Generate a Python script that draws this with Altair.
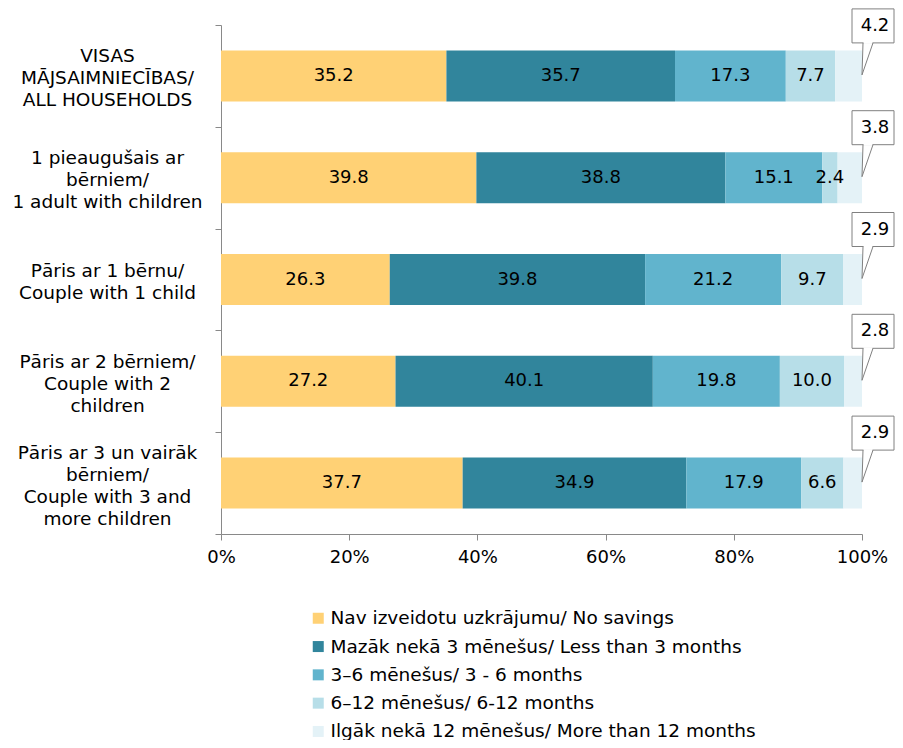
import altair as alt
import pandas as pd

categories = [
    "VISAS|MĀJSAIMNIECĪBAS/|ALL HOUSEHOLDS",
    "1 pieaugušais ar|bērniem/|1 adult with children",
    "Pāris ar 1 bērnu/|Couple with 1 child",
    "Pāris ar 2 bērniem/|Couple with 2|children",
    "Pāris ar 3 un vairāk|bērniem/|Couple with 3 and|more children",
]
series = [
    "Nav izveidotu uzkrājumu/ No savings",
    "Mazāk nekā 3 mēnešus/ Less than 3 months",
    "3–6 mēnešus/ 3 - 6 months",
    "6–12 mēnešus/ 6-12 months",
    "Ilgāk nekā 12 mēnešus/ More than 12 months",
]
no_savings = [35.2, 39.8, 26.3, 27.2, 37.7]
less_3 = [35.7, 38.8, 39.8, 40.1, 34.9]
m3_6 = [17.3, 15.1, 21.2, 19.8, 17.9]
m6_12 = [7.7, 2.4, 9.7, 10.0, 6.6]
more_12 = [4.2, 3.8, 2.9, 2.8, 2.9]
colors = ["#FFD175", "#31859C", "#61B4CD", "#B7DEE8", "#E4F2F7"]
x_ticks = [0, 0.2, 0.4, 0.6, 0.8, 1.0]

rows = []
for si, (s, vals) in enumerate(zip(series, [no_savings, less_3, m3_6, m6_12, more_12])):
    for ci, (c, v) in enumerate(zip(categories, vals)):
        rows.append({"category": c, "row": ci, "series": s, "order": si, "value": v})
df = pd.DataFrame(rows)

FONT = "DejaVu Sans"
GRAY = "#898989"
n_cat = len(categories)
last = len(series) - 1

base = alt.Chart(df).transform_stack(
    stack="value",
    groupby=["category"],
    sort=[alt.SortField("order", order="ascending")],
    as_=["v0", "v1"],
    offset="normalize",
).transform_calculate(
    mid="(datum.v0 + datum.v1) / 2",
    yc="datum.row + 0.5",
)

nlines = "length(split(datum.value, '|'))"
label_offset = {
    "condition": [
        {"test": f"{nlines} == 2", "value": -9},
        {"test": f"{nlines} == 4", "value": -31},
    ],
    "value": -20,
}

y_band = alt.Y(
    "category:N",
    sort=categories,
    scale=alt.Scale(paddingInner=0, paddingOuter=0),
    axis=alt.Axis(
        title=None,
        labelExpr="split(datum.label, '|')",
        labelAlign="center",
        labelBaseline="middle",
        labelPadding=108,
        labelOffset=label_offset,
        labelFontSize=18.5,
        labelFont=FONT,
        labelColor="black",
        labelLineHeight=22,
        labelLimit=0,
        labelAngle=0,
        tickBand="extent",
        tickSize=6,
        tickColor=GRAY,
        domainColor=GRAY,
        grid=False,
    ),
)

bars = base.mark_bar(size=51).encode(
    y=y_band,
    x=alt.X(
        "v0:Q",
        scale=alt.Scale(domain=[0, 1]),
        axis=alt.Axis(
            title=None,
            format="%",
            values=x_ticks,
            tickSize=6,
            tickColor=GRAY,
            domainColor=GRAY,
            labelFontSize=18,
            labelFont=FONT,
            labelColor="black",
            labelPadding=8,
            labelFlush=False,
            grid=False,
        ),
    ),
    x2="v1:Q",
    color=alt.Color(
        "series:N",
        sort=series,
        scale=alt.Scale(domain=series, range=colors),
        legend=alt.Legend(
            title=None,
            orient="none",
            legendX=88,
            legendY=584,
            direction="vertical",
            symbolType="square",
            symbolSize=121,
            symbolStrokeWidth=0,
            labelFontSize=18.5,
            labelFont=FONT,
            labelColor="black",
            labelLimit=0,
            labelOffset=3,
            rowPadding=9.3,
        ),
    ),
)

labels = base.transform_filter(f"datum.order < {last}").mark_text(
    fontSize=18, font=FONT, color="black", baseline="middle"
).encode(
    y=alt.Y("category:N", sort=categories, scale=alt.Scale(paddingInner=0, paddingOuter=0)),
    x="mid:Q",
    text=alt.Text("value:Q", format=".1f"),
)

main = alt.layer(bars, labels)

cb = base.transform_filter(f"datum.order == {last}")
yq = alt.Y("yc:Q", scale=alt.Scale(domain=[0, n_cat], reverse=True, nice=False, zero=False), axis=None)

box = cb.mark_rect(
    fill="white", stroke="#808080", strokeWidth=1,
    xOffset=-10, x2Offset=32, yOffset=-67, y2Offset=-33,
).encode(x="v1:Q", x2="v1:Q", y=yq, y2="yc:Q")

cover = cb.mark_rule(
    color="white", strokeWidth=2, xOffset=1.5, x2Offset=10.5, yOffset=-33
).encode(x="v1:Q", x2="v1:Q", y=yq)

ptr1 = cb.mark_rule(
    color="#808080", strokeWidth=1, xOffset=1, x2Offset=0, yOffset=-33, y2Offset=-1
).encode(x="v1:Q", x2="v1:Q", y=yq, y2="yc:Q")

ptr2 = cb.mark_rule(
    color="#808080", strokeWidth=1, xOffset=11, x2Offset=0, yOffset=-33, y2Offset=-1
).encode(x="v1:Q", x2="v1:Q", y=yq, y2="yc:Q")

ctext = cb.mark_text(
    fontSize=18, font=FONT, color="black", baseline="middle", xOffset=13, yOffset=-50
).encode(x="v1:Q", y=yq, text=alt.Text("value:Q", format=".1f"))

callouts = alt.layer(box, cover, ptr1, ptr2, ctext)

chart = alt.layer(main, callouts).resolve_scale(y="independent").properties(
    width=641,
    height=509,
    autosize=alt.AutoSizeParams(type="none"),
    padding={"left": 213, "top": 17, "right": 33, "bottom": 206},
    background="white",
).configure_view(stroke=None)

chart.save("out.html", embed_options={"renderer": "svg", "actions": False})
